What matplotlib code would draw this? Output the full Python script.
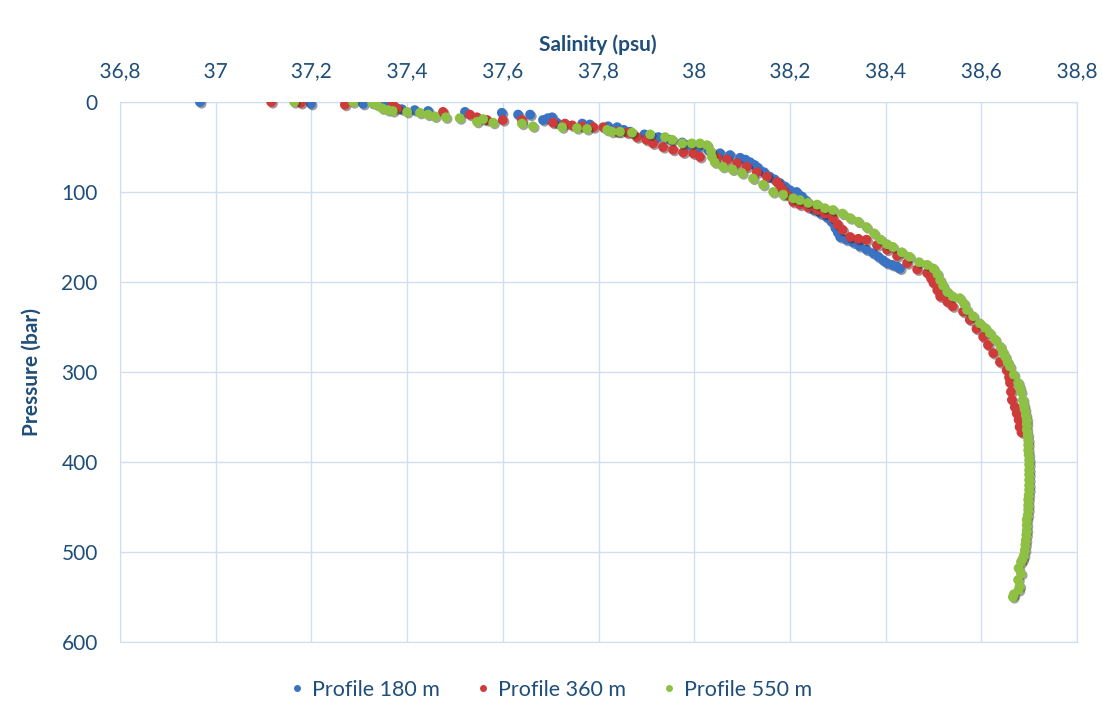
import matplotlib
matplotlib.use("Agg")
import matplotlib.pyplot as plt
import matplotlib.patheffects as pe
import matplotlib.transforms as mtransforms
from matplotlib.lines import Line2D
from matplotlib.ticker import MultipleLocator

# profile 180 m (blue)
p180 = [0, 2, 2, 4, 8, 9, 10, 11, 12, 14, 14, 20, 18, 17, 23, 24, 25, 27, 28, 31, 33,
        36, 39, 42, 45, 48, 51, 54, 57, 59, 62, 64, 67, 70, 73, 78, 83, 86, 90, 94, 98,
        100, 105, 110, 115, 120, 124, 128, 133, 140, 145, 150, 153, 156, 160, 164, 168,
        172, 176, 179, 181, 183, 185]
s180 = [36.967, 37.199, 37.308, 37.354, 37.389, 37.416, 37.444, 37.521, 37.598, 37.632,
        37.657, 37.684, 37.694, 37.703, 37.713, 37.766, 37.782, 37.82, 37.839, 37.853,
        37.866, 37.896, 37.925, 37.95, 37.975, 37.987, 38.008, 38.03, 38.054, 38.075,
        38.096, 38.107, 38.117, 38.126, 38.133, 38.146, 38.158, 38.168, 38.179, 38.19,
        38.2, 38.214, 38.225, 38.235, 38.243, 38.25, 38.264, 38.277, 38.287, 38.295,
        38.3, 38.305, 38.318, 38.332, 38.345, 38.36, 38.374, 38.385, 38.395, 38.403,
        38.414, 38.424, 38.43]

# profile 360 m (red)
p360 = [0, 1, 3, 3, 7, 11, 14, 17, 20, 20, 20, 23, 24, 26, 27, 28, 28, 33, 34, 39, 42,
        46, 50, 53, 56, 57, 61, 62, 64, 68, 72, 78, 83, 89, 94, 98, 103, 111, 114, 117,
        120, 124, 129, 136, 142, 150, 152, 153, 159, 164, 171, 179, 186, 190, 196, 201,
        209, 216, 222, 227, 233, 242, 252, 261, 270, 279, 289, 298, 306, 312, 322, 331,
        339, 346, 353, 361, 367]
s360 = [37.116, 37.178, 37.27, 37.37, 37.379, 37.475, 37.531, 37.546, 37.567, 37.6, 37.64,
        37.705, 37.73, 37.745, 37.766, 37.789, 37.81, 37.839, 37.86, 37.88, 37.9, 37.914,
        37.935, 37.956, 37.977, 37.998, 38.012, 38.048, 38.069, 38.09, 38.11, 38.131,
        38.152, 38.173, 38.18, 38.186, 38.194, 38.207, 38.221, 38.238, 38.257, 38.273,
        38.29, 38.3, 38.31, 38.326, 38.343, 38.36, 38.382, 38.403, 38.424, 38.445,
        38.466, 38.487, 38.495, 38.5, 38.508, 38.514, 38.529, 38.54, 38.562, 38.576,
        38.59, 38.604, 38.614, 38.625, 38.639, 38.653, 38.658, 38.66, 38.662, 38.664,
        38.67, 38.674, 38.678, 38.68, 38.684]

# profile 550 m (green)
p550 = [0, 0, 1, 3, 7, 9, 10, 11, 12, 14, 16, 17, 18, 22, 19, 23, 24, 27, 28, 29, 30, 31,
        33, 33, 34, 36, 39, 42, 46, 46, 46, 48, 55, 61, 67, 72, 75, 79, 85, 92, 100, 103,
        107, 109, 112, 114, 118, 120, 124, 129, 133, 139, 146, 153, 158, 161, 167, 172,
        178, 181, 185, 191, 198, 204, 211, 216, 218, 224, 231, 238, 246, 251, 257, 264,
        272, 278, 283, 289, 294, 303, 312, 317, 322, 331, 337, 342, 348, 353, 358, 364,
        370, 376, 381, 387, 392, 398, 403, 409, 414, 420, 426, 431, 437, 442, 448, 453,
        459, 464, 470, 476, 481, 487, 492, 498, 504, 508, 511, 518, 524, 531, 538, 542,
        547, 550]
s550 = [37.164, 37.287, 37.327, 37.337, 37.348, 37.36, 37.37, 37.4, 37.427, 37.444,
        37.458, 37.481, 37.51, 37.546, 37.559, 37.58, 37.64, 37.663, 37.724, 37.755,
        37.776, 37.818, 37.828, 37.845, 37.87, 37.908, 37.939, 37.954, 37.975, 37.995,
        38.012, 38.027, 38.035, 38.037, 38.043, 38.06, 38.08, 38.1, 38.123, 38.144,
        38.165, 38.186, 38.207, 38.221, 38.238, 38.257, 38.273, 38.29, 38.31, 38.326,
        38.343, 38.36, 38.376, 38.39, 38.403, 38.415, 38.434, 38.45, 38.47, 38.487,
        38.5, 38.508, 38.514, 38.52, 38.529, 38.54, 38.555, 38.564, 38.57, 38.583,
        38.597, 38.608, 38.618, 38.629, 38.64, 38.645, 38.65, 38.655, 38.66, 38.668,
        38.677, 38.68, 38.683, 38.687, 38.689, 38.691, 38.693, 38.695, 38.695, 38.695,
        38.697, 38.698, 38.698, 38.698, 38.699, 38.7, 38.7, 38.7, 38.7, 38.7, 38.7,
        38.7, 38.699, 38.698, 38.698, 38.698, 38.697, 38.695, 38.695, 38.695, 38.694,
        38.693, 38.692, 38.691, 38.689, 38.686, 38.683, 38.678, 38.683, 38.677, 38.68,
        38.678, 38.668, 38.666]

profiles = ["Profile 180 m", "Profile 360 m", "Profile 550 m"]
colors = ["#3a72c4", "#cf3b3b", "#8dc043"]
xticks = [36.8, 37.0, 37.2, 37.4, 37.6, 37.8, 38.0, 38.2, 38.4, 38.6, 38.8]
xticklabels = ["36,8", "37", "37,2", "37,4", "37,6", "37,8", "38", "38,2", "38,4", "38,6", "38,8"]

tick_col = "#1f4e79"
grid_col = "#d0def0"

plt.rcParams['font.family'] = 'Lato'

fig = plt.figure(figsize=(11.02, 7.04), dpi=100)
ax = fig.add_axes([120 / 1102, 1 - 642 / 704, 957 / 1102, 540 / 704])

shadow = [pe.SimplePatchShadow(offset=(1.2, -1.2), alpha=0.45), pe.Normal()]
for p, s, c in zip([p180, p360, p550], [s180, s360, s550], colors):
    ax.scatter(s, p, s=50, color=c, zorder=3, linewidths=0, path_effects=shadow)

ax.set_xlim(36.8, 38.8)
ax.set_ylim(600, 0)
ax.set_xticks(xticks)
ax.yaxis.set_major_locator(MultipleLocator(100))
ax.tick_params(length=0, labelsize=15, colors=tick_col)
ax.tick_params(axis='x', labelbottom=False, labeltop=False)
ax.tick_params(axis='y', pad=16)
ax.grid(True, color=grid_col, linewidth=1)
ax.set_axisbelow(True)
for sp in ax.spines.values():
    sp.set_color(grid_col)

# x tick labels on top; drawn as paths so they all share one baseline
trans = mtransforms.blended_transform_factory(ax.transData, ax.transAxes) + \
    mtransforms.ScaledTranslation(0, 24 / 100, fig.dpi_scale_trans)
for x, lab in zip(xticks, xticklabels):
    ax.text(x, 1, lab, transform=trans, ha='center', va='baseline',
            fontsize=15, color=tick_col, clip_on=False, path_effects=[pe.Normal()])

fig.text(598 / 1102, 1 - 45 / 704, "Salinity (psu)", ha='center', va='center',
         fontsize=15, fontweight='bold', color=tick_col)
ax.set_ylabel("Pressure (bar)", fontsize=15, fontweight='bold', color=tick_col, labelpad=14)

handles = [Line2D([], [], linestyle='none', marker='o', markersize=5, color=c,
                  markeredgewidth=0) for c in colors]
leg = fig.legend(handles, profiles, loc='center', bbox_to_anchor=(0.5, 1 - 690 / 704),
                 ncol=3, frameon=False, fontsize=15.5, handlelength=0.6,
                 handletextpad=0.4, columnspacing=1.7)
for t in leg.get_texts():
    t.set_color(tick_col)

fig.savefig("out.png", dpi=100)
